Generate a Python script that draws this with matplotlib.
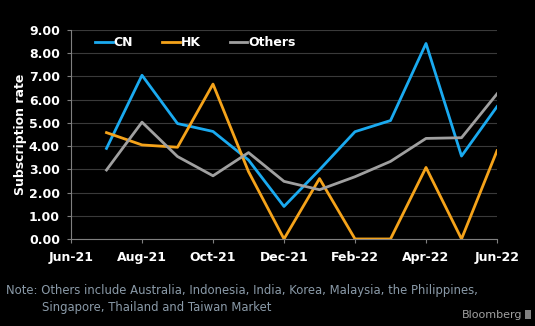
import numpy as np
import matplotlib
matplotlib.use('Agg')
import matplotlib.pyplot as plt
from matplotlib.patches import Rectangle

# monthly subscription rates, Jul-21 .. Jun-22
months = ['2021-07', '2021-08', '2021-09', '2021-10', '2021-11', '2021-12',
          '2022-01', '2022-02', '2022-03', '2022-04', '2022-05', '2022-06']
cn = [3.90, 7.05, 4.97, 4.63, 3.40, 1.40, 2.98, 4.62, 5.10, 8.42, 3.57, 5.70]
hk = [4.58, 4.05, 3.95, 6.67, 2.90, 0.00, 2.60, 0.00, 0.00, 3.08, 0.00, 3.80]
others = [2.97, 5.03, 3.55, 2.72, 3.72, 2.48, 2.12, 2.68, 3.34, 4.33, 4.36, 6.25]

tick_months = ['2021-06', '2021-08', '2021-10', '2021-12', '2022-02', '2022-04', '2022-06']
tick_labels = ['Jun-21', 'Aug-21', 'Oct-21', 'Dec-21', 'Feb-22', 'Apr-22', 'Jun-22']
yticks = np.arange(0, 9.01, 1.0)

# month index relative to Jun-21
def midx(m):
    y, mo = m.split('-')
    return (int(y) - 2021) * 12 + int(mo) - 6

x = [midx(m) for m in months]
xt = [midx(m) for m in tick_months]

fig = plt.figure(figsize=(5.35, 3.26), dpi=100, facecolor='black')
ax = fig.add_axes([0.1327, 0.267, 0.7963, 0.641], facecolor='black')

ax.plot(x, cn, color='#1aaaf0', lw=2, label='CN')
ax.plot(x, hk, color='#f5a31a', lw=2, label='HK')
ax.plot(x, others, color='#a0a0a0', lw=2, label='Others')

ax.set_xlim(0, 12)
ax.set_ylim(0, 9)
ax.set_yticks(yticks)
ax.set_yticklabels(['%.2f' % v for v in yticks])
ax.set_xticks(xt)
ax.set_xticklabels(tick_labels)
ax.grid(axis='y', color='#3a3a3a', lw=0.8)
ax.set_axisbelow(True)

for s in ['top', 'right']:
    ax.spines[s].set_visible(False)
for s in ['left', 'bottom']:
    ax.spines[s].set_color('#808080')
ax.tick_params(colors='#808080', length=3, width=0.8)
for lab in ax.get_xticklabels() + ax.get_yticklabels():
    lab.set_color('white')
    lab.set_fontweight('bold')
    lab.set_fontsize(9)
ax.tick_params(axis='x', pad=6)
ax.tick_params(axis='y', pad=5)

ax.set_ylabel('Subscription rate', color='white', fontweight='bold', fontsize=9, labelpad=1)

leg = ax.legend(loc='upper left', bbox_to_anchor=(0.03, 1.025), ncol=3, frameon=False,
                handlelength=1.4, handletextpad=0.1, columnspacing=2.3,
                prop={'weight': 'bold', 'size': 9})
for t in leg.get_texts():
    t.set_color('white')

note_col = '#8a9aa8'
fig.text(0.011, 0.110, 'Note: Others include Australia, Indonesia, India, Korea, Malaysia, the Philippines,',
         color=note_col, fontsize=8.4, va='center')
fig.text(0.078, 0.058, 'Singapore, Thailand and Taiwan Market',
         color=note_col, fontsize=8.4, va='center')
fig.text(0.976, 0.034, 'Bloomberg', color='#a0a0a0', fontsize=8, ha='right', va='center')
fig.patches.append(Rectangle((0.981, 0.022), 0.012, 0.026, transform=fig.transFigure,
                             facecolor='#808080', edgecolor='none'))

fig.savefig('out.png', dpi=100, facecolor='black')
